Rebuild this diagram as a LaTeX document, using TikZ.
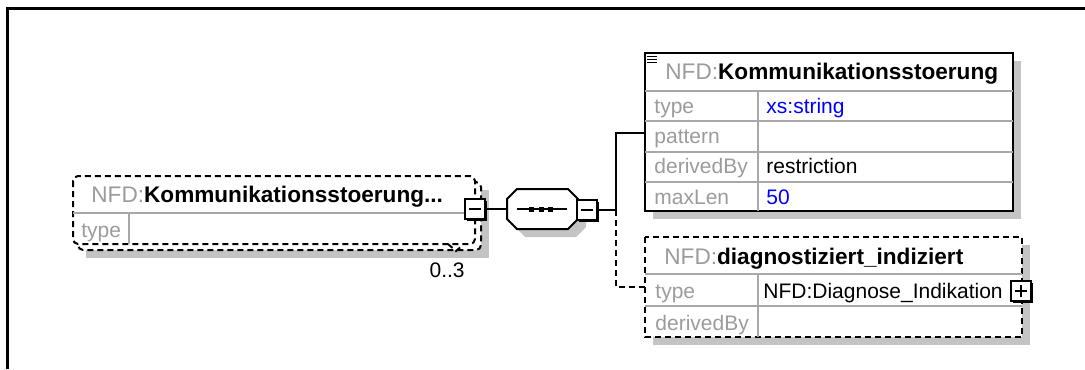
\documentclass[tikz,border=0pt]{standalone}
\usepackage{fontspec}
\setmainfont{Liberation Sans}
\definecolor{lblgray}{HTML}{9C9C9C}
\definecolor{rulegray}{HTML}{A8A8A8}
\definecolor{shadegray}{HTML}{C4C4C4}
\definecolor{valblue}{HTML}{0000FF}
\tikzset{
  lbl/.style={anchor=base west, inner sep=0pt, text=lblgray},
  val/.style={anchor=base west, inner sep=0pt},
  ttl/.style={anchor=base west, inner sep=0pt, font=\fontsize{11.3}{13}\selectfont},
  cellrule/.style={draw=rulegray, line width=0.6pt},
  optbox/.style={line width=1pt, dash pattern=on 3pt off 2pt},
  conn/.style={line width=1pt},
  btn/.style={draw, fill=white, line width=1pt, minimum size=10pt, inner sep=0pt},
  btnshd/.style={fill=black, minimum size=10pt, inner sep=0pt}
}
\begin{document}
\begin{tikzpicture}[x=0.5pt, y=-0.5pt, font=\fontsize{10.5}{12}\selectfont]
  \useasboundingbox (0,0) rectangle (1085,369);
  \draw[line width=1.5pt] (7.5,369) -- (7.5,8.5) -- (1085,8.5);

  % repeated element (0..3)
  \fill[shadegray] (86,190) rectangle (489,258);
  \draw[optbox, fill=white, rounded corners=2.5pt] (78,182) rectangle (481,250);
  \draw[optbox, fill=white, rounded corners=2.5pt] (73,176) rectangle (475,244);
  \draw[cellrule] (73,213) -- (475,213);
  \draw[cellrule] (129,213) -- (129,244);
  \node [ttl] (kslTitle) at (91,202) {\textcolor{lblgray}{NFD:}\textbf{Kommunikationsstoerung...}};
  \node [lbl] (kslType) at (81,237) {type};
  \draw[optbox] (448,244) -- (456,251) -- (463,245);
  \node [val, anchor=base east] (occ) at (465,277) {0..3};
  \node [btnshd] (colLs) at (477,211) {};
  \node [btn] (colL) at (475,209) {};
  \draw[line width=1pt] ([xshift=2.5pt]colL.west) -- ([xshift=-2.5pt]colL.east);

  % sequence compositor
  \fill[shadegray] (515,207) -- (525,197) -- (576,197) -- (586,207) -- (586,227) -- (576,237) -- (525,237) -- (515,227) -- cycle;
  \draw[line width=1pt, fill=white] (507,199) -- (517,189) -- (568,189) -- (578,199) -- (578,219) -- (568,229) -- (517,229) -- (507,219) -- cycle;
  \coordinate (seqW) at (507,209);
  \draw[line width=1pt] (517,209) -- (567,209);
  \foreach \x in {531.5,541,550.5}
    \fill ({\x-2.5},206.5) rectangle ({\x+2.5},211.5);
  \node [btnshd] (seqBtnS) at (589,212) {};
  \node [btn] (seqBtn) at (587,210) {};
  \draw[line width=1pt] ([xshift=2.5pt]seqBtn.west) -- ([xshift=-2.5pt]seqBtn.east);

  % element Kommunikationsstoerung
  \fill[shadegray] (653,61) rectangle (1021,219);
  \draw[line width=1pt, fill=white] (645,53) rectangle (1013,211);
  \foreach \y in {91,121,152,182}
    \draw[cellrule] (645,\y) -- (1013,\y);
  \draw[cellrule] (758,91) -- (758,211);
  \foreach \y in {56.5,59.5,62.5}
    \draw[line width=0.8pt] (647,\y) -- (657,\y);
  \coordinate (ksW) at (645,133);
  \node [ttl] (ksTitle) at (665,80) {\textcolor{lblgray}{NFD:}\textbf{Kommunikationsstoerung}};
  \node [lbl] (ksType) at (654,113) {type};
  \node [lbl] (ksPat) at (654,143) {pattern};
  \node [lbl] (ksDer) at (654,173) {derivedBy};
  \node [lbl] (ksMax) at (654,204) {maxLen};
  \node [val, text=valblue] (ksTypeV) at (766,113) {xs:string};
  \node [val] (ksDerV) at (766,173) {restriction};
  \node [val, text=valblue] (ksMaxV) at (766,204) {50};

  % element diagnostiziert_indiziert
  \fill[shadegray] (653,245) rectangle (1030,345);
  \draw[optbox, fill=white] (645,237) rectangle (1022,337);
  \draw[cellrule] (645,274) -- (1022,274);
  \draw[cellrule] (645,306) -- (1022,306);
  \draw[cellrule] (758,274) -- (758,337);
  \coordinate (diW) at (645,287);
  \node [ttl] (diTitle) at (664,264) {\textcolor{lblgray}{NFD:}\textbf{diagnostiziert\_indiziert}};
  \node [lbl] (diType) at (655,298) {type};
  \node [lbl] (diDer) at (655,330) {derivedBy};
  \node [val] (diTypeV) at (763,298) {NFD:Diagnose\_Indikation};
  \node [btnshd] (diBtnS) at (1023,293) {};
  \node [btn] (diBtn) at (1021,291) {};
  \draw[line width=1pt] ([xshift=2.5pt]diBtn.west) -- ([xshift=-2.5pt]diBtn.east);
  \draw[line width=1pt] ([yshift=-2.5pt]diBtn.north) -- ([yshift=2.5pt]diBtn.south);

  % connectors
  \coordinate (bus) at (616,210);
  \draw[conn] (colL.east) -- (seqW);
  \draw[conn] (seqBtn.east) -- (bus) |- (ksW);
  \draw[conn, optbox] (bus) |- (diW);
\end{tikzpicture}
\end{document}
